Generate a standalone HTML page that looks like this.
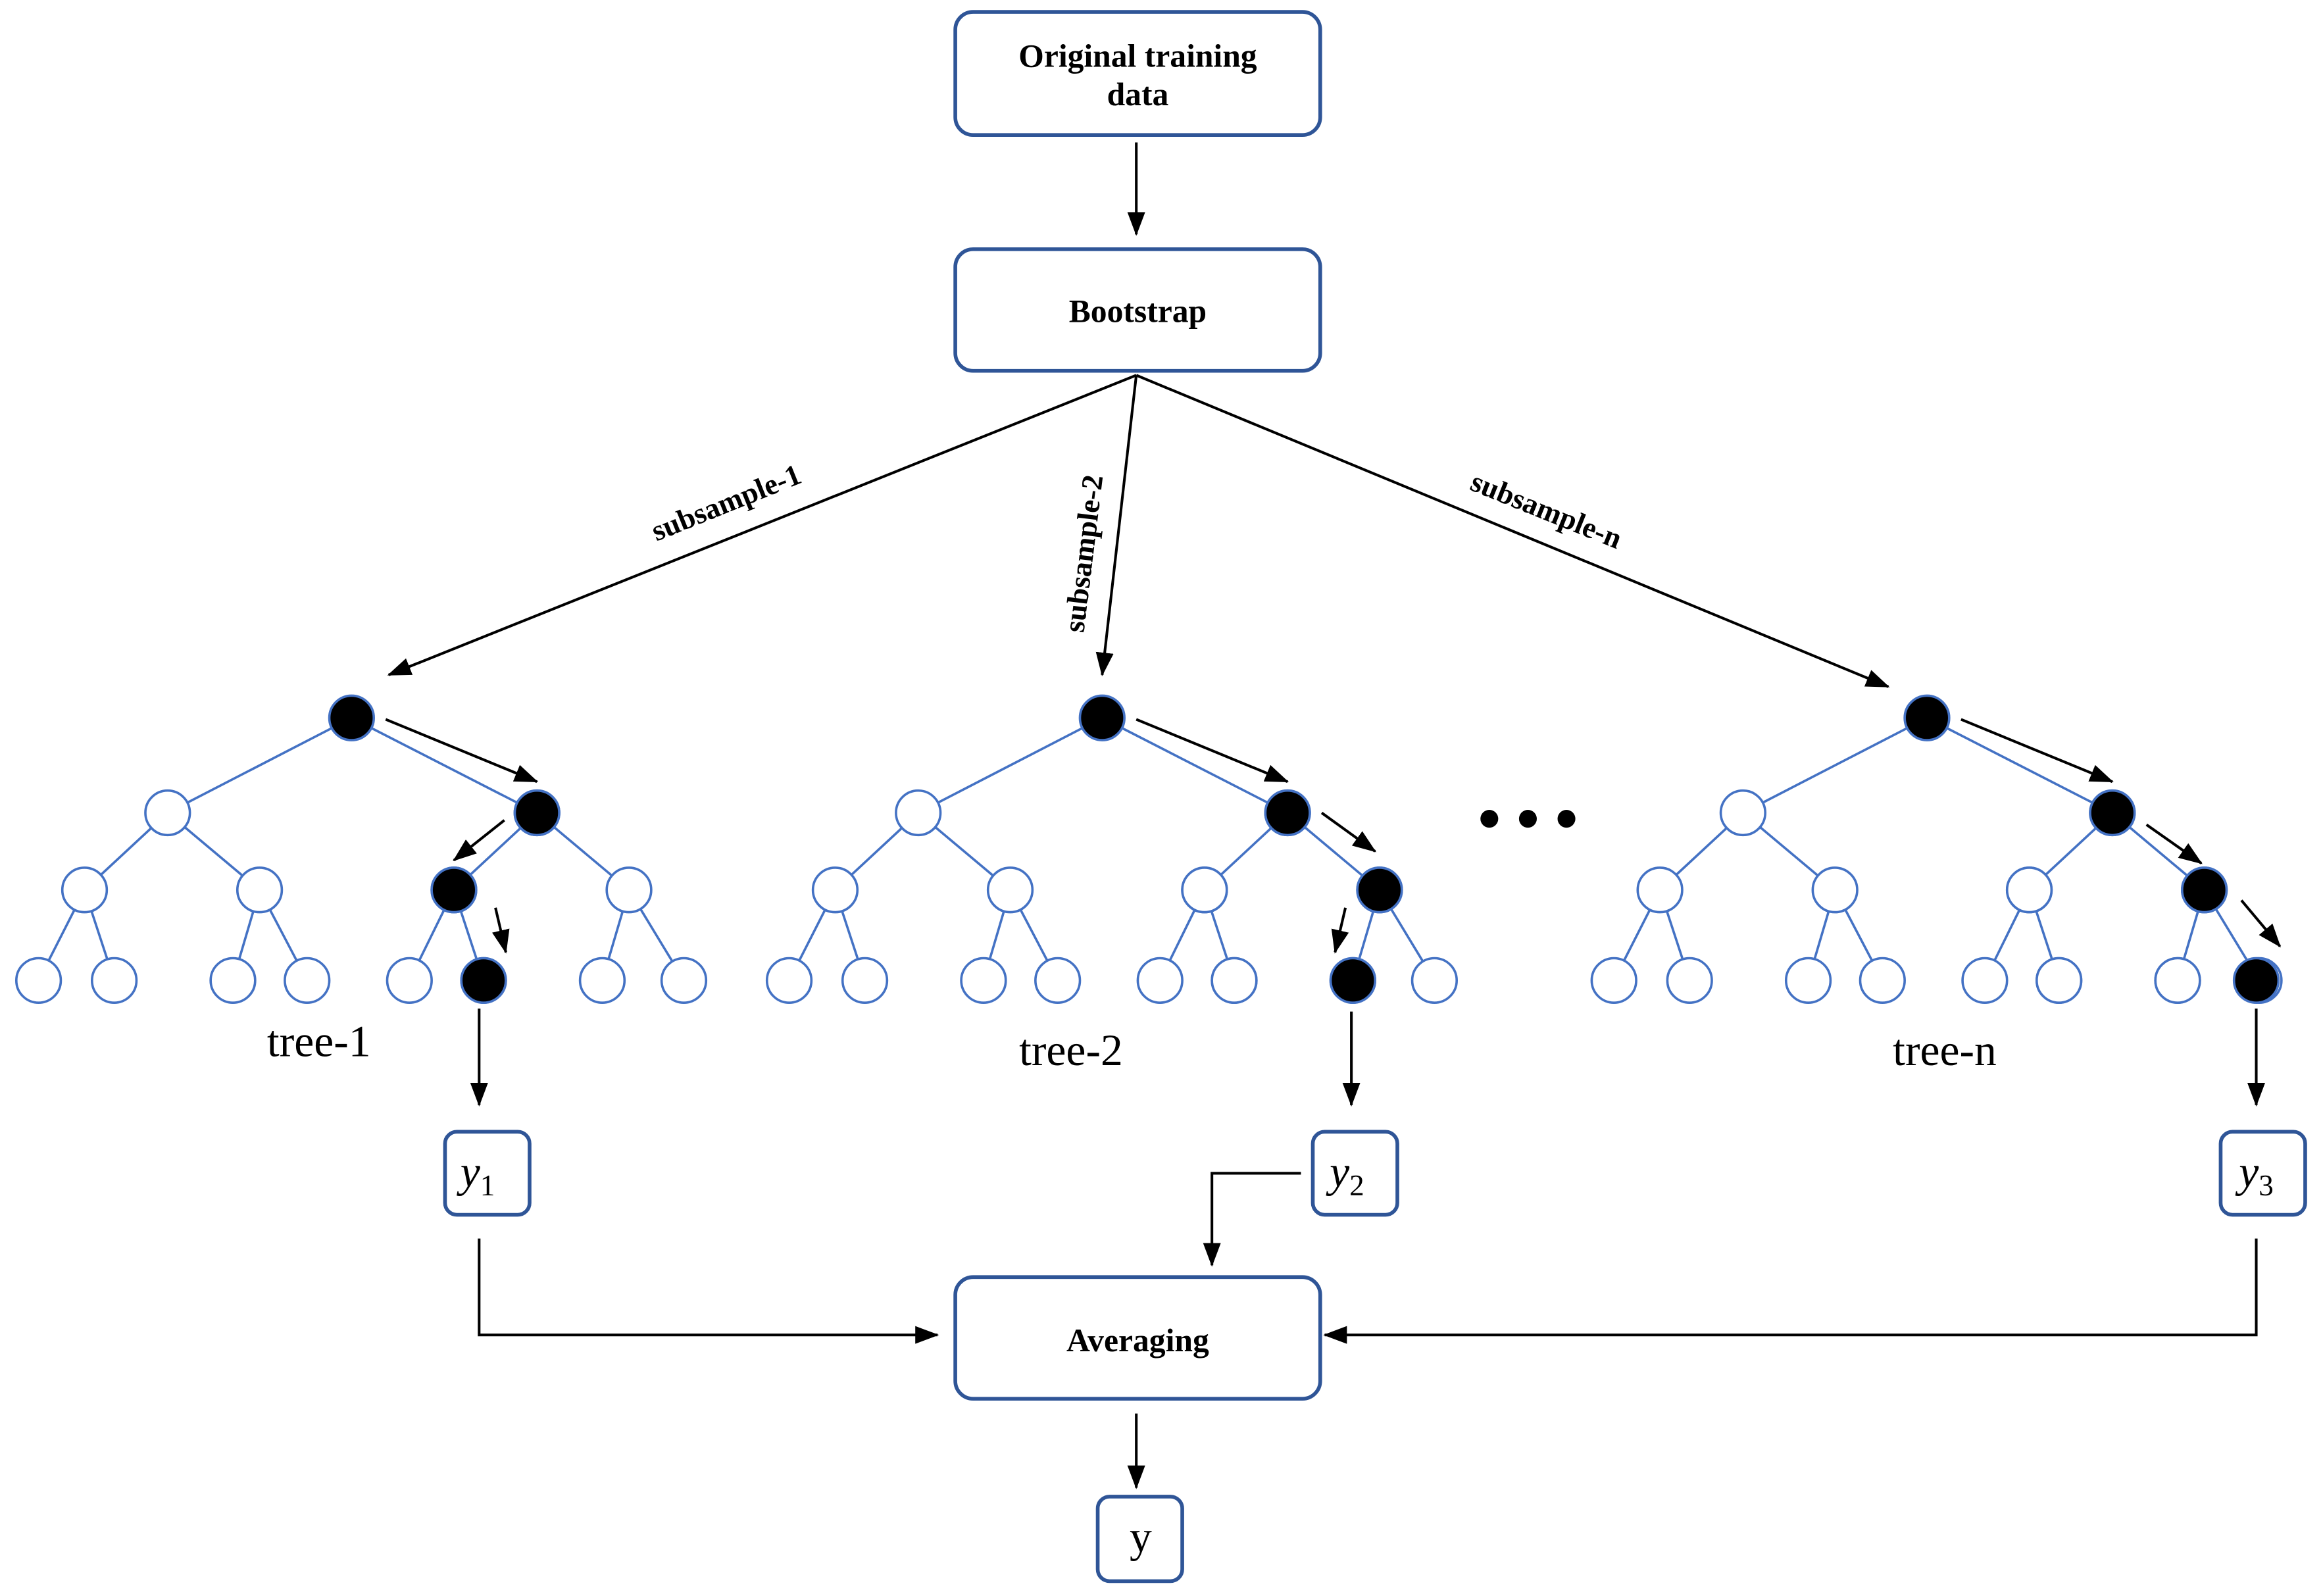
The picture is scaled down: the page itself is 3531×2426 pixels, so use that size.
<!DOCTYPE html>
<html><head><meta charset="utf-8"><style>html,body{margin:0;padding:0;background:#fff}svg{display:block}</style></head><body>
<svg width="3531" height="2426" viewBox="0 0 1566 1076" preserveAspectRatio="none" xmlns="http://www.w3.org/2000/svg" font-family="'Liberation Serif', serif">
<defs>
<marker id="b" markerWidth="16" markerHeight="12" refX="15" refY="6" orient="auto" markerUnits="userSpaceOnUse" viewBox="0 0 16 12"><path d="M0,0 L16,6 L0,12 z" fill="#000"/></marker></defs>
<g fill="#fff" stroke="#2F5597" stroke-width="2.5">
<rect x="644" y="8" width="246" height="83" rx="12"/>
<rect x="644" y="168" width="246" height="82" rx="12"/>
<rect x="644" y="861" width="246" height="82" rx="12"/>
<rect x="300" y="763" width="57" height="56" rx="8"/>
<rect x="885" y="763" width="57" height="56" rx="8"/>
<rect x="1497" y="763" width="57" height="56" rx="8"/>
<rect x="740" y="1009" width="57" height="57" rx="8"/>
</g>
<g font-weight="bold" font-size="22" text-anchor="middle">
<text x="767" y="45">Original training</text><text x="767" y="71">data</text>
<text x="767" y="217">Bootstrap</text>
<text x="767" y="911">Averaging</text>
<text transform="translate(492,345) rotate(-22)" font-size="20">subsample-1</text>
<text transform="translate(737,374) rotate(-83)" font-size="20">subsample-2</text>
<text transform="translate(1040,350) rotate(22)" font-size="20">subsample-n</text>
</g>
<g stroke="#000" stroke-width="1.8" fill="none" marker-end="url(#b)">
<line x1="766" y1="96" x2="766" y2="158"/>
<line x1="766" y1="253" x2="262" y2="455"/>
<line x1="766" y1="253" x2="743" y2="455"/>
<line x1="766" y1="253" x2="1273" y2="463"/>
<line x1="323" y1="680" x2="323" y2="745"/>
<line x1="911" y1="682" x2="911" y2="745"/>
<line x1="1521" y1="680" x2="1521" y2="745"/>
<polyline points="323,835 323,900 632,900"/>
<polyline points="877,791 817,791 817,853"/>
<polyline points="1521,835 1521,900 893,900"/>
<line x1="766" y1="953" x2="766" y2="1003"/>
<line x1="260" y1="485" x2="362" y2="527"/>
<line x1="340" y1="553" x2="306" y2="580"/>
<line x1="334" y1="612" x2="341" y2="642"/>
<line x1="766" y1="485" x2="868" y2="527"/>
<line x1="891" y1="548" x2="927" y2="574"/>
<line x1="907" y1="612" x2="900" y2="642"/>
<line x1="1322" y1="485" x2="1424" y2="527"/>
<line x1="1447" y1="556" x2="1484" y2="582"/>
<line x1="1511" y1="607" x2="1537" y2="638"/>
</g>
<g font-size="30" text-anchor="middle">
<text x="215" y="712">tree-1</text><text x="722" y="718">tree-2</text><text x="1311" y="718">tree-n</text>
<text x="769" y="1046">y</text>
<text x="322" y="800" font-style="italic">y<tspan font-size="20" font-style="normal" dy="6">1</tspan></text>
<text x="908" y="800" font-style="italic">y<tspan font-size="20" font-style="normal" dy="6">2</tspan></text>
<text x="1521" y="800" font-style="italic">y<tspan font-size="20" font-style="normal" dy="6">3</tspan></text>
</g>
<g fill="#000"><circle cx="1004" cy="552" r="6"/><circle cx="1030" cy="552" r="6"/><circle cx="1056" cy="552" r="6"/></g>
<g stroke="#4472C4" stroke-width="1.6">
<g id="tree">
<line x1="237" y1="484" x2="113" y2="548"/><line x1="237" y1="484" x2="362" y2="548"/>
<line x1="113" y1="548" x2="57" y2="600"/><line x1="113" y1="548" x2="175" y2="600"/>
<line x1="362" y1="548" x2="306" y2="600"/><line x1="362" y1="548" x2="424" y2="600"/>
<line x1="57" y1="600" x2="26" y2="661"/><line x1="57" y1="600" x2="77" y2="661"/>
<line x1="175" y1="600" x2="157" y2="661"/><line x1="175" y1="600" x2="207" y2="661"/>
<line x1="306" y1="600" x2="276" y2="661"/><line x1="306" y1="600" x2="326" y2="661"/>
<line x1="424" y1="600" x2="406" y2="661"/><line x1="424" y1="600" x2="461" y2="661"/>
<g fill="#fff">
<circle cx="113" cy="548" r="15"/><circle cx="362" cy="548" r="15"/>
<circle cx="57" cy="600" r="15"/><circle cx="175" cy="600" r="15"/><circle cx="306" cy="600" r="15"/><circle cx="424" cy="600" r="15"/>
<circle cx="26" cy="661" r="15"/><circle cx="77" cy="661" r="15"/><circle cx="157" cy="661" r="15"/><circle cx="207" cy="661" r="15"/><circle cx="276" cy="661" r="15"/><circle cx="326" cy="661" r="15"/><circle cx="406" cy="661" r="15"/><circle cx="461" cy="661" r="15"/>
</g>
<circle cx="237" cy="484" r="15" fill="#000"/><circle cx="362" cy="548" r="15" fill="#000"/>
</g>
<use href="#tree" x="506"/><use href="#tree" x="1062"/>
<g fill="#000">
<circle cx="306" cy="600" r="15"/><circle cx="326" cy="661" r="15"/>
<circle cx="930" cy="600" r="15"/><circle cx="912" cy="661" r="15"/>
<circle cx="1486" cy="600" r="15"/><circle cx="1521" cy="661" r="15"/>
</g>
<g fill="#fff"><circle cx="812" cy="600" r="15"/><circle cx="832" cy="661" r="15"/><circle cx="1368" cy="600" r="15"/><circle cx="1388" cy="661" r="15"/><circle cx="1468" cy="661" r="15"/></g>
</g>
</svg>
</body></html>
